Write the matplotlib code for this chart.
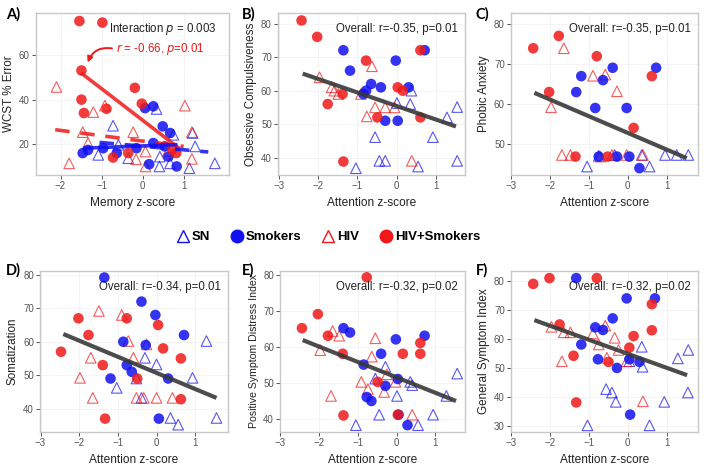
import matplotlib
matplotlib.use("Agg")
import matplotlib.pyplot as plt
import numpy as np

plt.rcParams['font.family'] = ['Liberation Sans', 'DejaVu Sans']

BLUE = '#1010f0'
RED = '#f01818'

# ---- Panel A: WCST % Error vs Memory z-score
A_SN_X = [-0.72, -0.59, -0.35, 0.34, 0.41, 0.67, 1.22, 1.28, 1.14, 1.76, -1.08, 0.75, 0.42]
A_SN_Y = [28.3, 19.7, 13.7, 35.8, 10.0, 11.4, 25.0, 19.0, 9.2, 11.4, 15.2, 24.2, 14.4]
A_SM_X = [-1.46, -1.33, -0.96, -0.63, -0.15, 0.06, 0.26, 0.49, 0.67, 0.16, 0.63, 0.83, 0.54, 0.26]
A_SM_Y = [16.0, 17.4, 18.2, 16.0, 18.2, 36.2, 37.0, 28.0, 25.0, 11.0, 14.4, 10.0, 19.0, 20.5]
A_HIV_X = [-2.1, -1.79, -1.2, -0.92, -1.46, -1.33, -0.23, -0.16, 0.07, 0.07, 1.03, 1.2, 1.2, 0.62]
A_HIV_Y = [45.7, 11.4, 34.4, 37.3, 25.4, 20.5, 25.4, 13.2, 16.7, 10.0, 37.3, 25.4, 13.4, 17.0]
A_HS_X = [-1.54, -0.98, -1.49, -1.49, -1.43, -0.88, -0.19, -0.02, -0.35, -0.72, 0.72, 0.82]
A_HS_Y = [75.3, 74.6, 53.1, 40.0, 34.0, 35.9, 45.3, 38.2, 16.0, 14.0, 17.5, 16.0]
# group fit lines (endpoints)
A_FIT_HS_X, A_FIT_HS_Y = [-1.5, 0.9], [52.0, 18.0]
A_FIT_HIV_X, A_FIT_HIV_Y = [-2.13, 1.0], [26.5, 19.0]
A_FIT_SM_X, A_FIT_SM_Y = [-1.45, 0.85], [18.2, 19.8]
A_FIT_SN_X, A_FIT_SN_Y = [-1.05, 1.6], [20.8, 16.5]

# ---- Panel B: Obsessive Compulsiveness
B_SN_X = [-1.04, -0.55, -0.44, -0.29, 0.01, 0.35, 0.38, 0.55, 0.93, 1.29, 1.55, 1.55]
B_SN_Y = [36.8, 46.1, 39.0, 39.0, 56.3, 56.0, 60.0, 37.3, 46.1, 52.0, 55.1, 39.0]
B_SM_X = [-1.36, -1.19, -0.65, -0.78, -0.85, -0.40, -0.02, -0.29, 0.03, 0.31, 0.72]
B_SM_Y = [72.1, 66.0, 62.0, 60.0, 59.0, 61.0, 69.0, 51.0, 51.0, 61.0, 72.1]
B_HIV_X = [-1.97, -1.66, -1.59, -1.49, -0.63, -0.91, -0.76, -0.55, -0.29, -0.05, 0.39]
B_HIV_Y = [64.0, 61.0, 60.0, 59.0, 67.3, 59.0, 52.3, 55.0, 55.0, 55.0, 39.0]
B_HS_X = [-2.43, -2.03, -0.78, -1.76, -1.38, -0.49, 0.03, 0.16, 0.61, 0.61, -1.36]
B_HS_Y = [81.0, 76.1, 69.0, 56.0, 59.0, 52.0, 61.0, 60.0, 52.0, 72.1, 38.8]
B_FIT_X, B_FIT_Y = [-2.4, 1.52], [65.1, 49.3]

# ---- Panel C: Phobic Anxiety
C_SN_X = [-1.05, -0.75, -0.34, 0.36, 0.56, 0.96, 1.26, 1.56]
C_SN_Y = [44.3, 47.0, 47.2, 47.2, 44.3, 47.2, 47.2, 47.2]
C_SM_X = [-1.2, -0.64, -0.39, 0.73, -1.33, -0.84, -0.03, -0.75, -0.28, 0.04, 0.3]
C_SM_Y = [67.0, 66.0, 69.1, 69.1, 63.0, 59.0, 59.0, 46.8, 46.8, 46.8, 43.9]
C_HIV_X = [-1.65, -1.98, -0.9, -0.58, -0.28, -1.7, -1.48, -0.71, -0.41, -0.03, 0.39]
C_HIV_Y = [74.0, 59.2, 67.1, 67.4, 63.2, 47.2, 47.2, 46.8, 47.2, 47.2, 47.2]
C_HS_X = [-2.44, -1.78, -2.03, -0.8, 0.62, 0.15, -1.35, -0.52]
C_HS_Y = [74.0, 77.1, 63.0, 72.0, 67.0, 54.0, 46.8, 46.8]
C_FIT_X, C_FIT_Y = [-2.41, 1.52], [62.8, 46.4]

# ---- Panel D: Somatization
D_SN_X = [-1.03, -0.3, 0.0, -0.52, -0.39, 0.36, 0.56, 0.93, 1.29, 1.55]
D_SN_Y = [46.2, 55.2, 53.2, 49.0, 43.2, 37.2, 35.2, 49.2, 60.2, 37.2]
D_SM_X = [-1.35, -0.39, -0.03, 0.71, -0.86, -0.28, -0.77, -0.64, -1.19, 0.3, 0.06]
D_SM_Y = [79.2, 72.0, 68.0, 62.0, 60.0, 59.0, 53.0, 51.0, 49.0, 49.0, 37.0]
D_HIV_X = [-1.49, -0.9, -0.73, -0.26, -1.7, -0.6, -1.98, -1.65, -0.52, -0.33, 0.0, 0.41]
D_HIV_Y = [69.2, 68.0, 60.2, 59.2, 55.2, 55.2, 49.2, 43.2, 43.2, 43.2, 43.2, 43.2]
D_HS_X = [-2.47, -2.02, -1.76, -0.77, 0.04, 0.17, -1.39, -0.5, 0.63, 0.63, -1.33]
D_HS_Y = [57.0, 67.0, 62.0, 67.0, 65.0, 58.0, 53.0, 49.0, 55.0, 42.8, 37.0]
D_FIT_X, D_FIT_Y = [-2.41, 1.55], [62.3, 43.2]

# ---- Panel E: Positive Symptom Distress Index
E_SN_X = [-1.05, -0.55, -0.45, -0.29, 0.01, 0.35, 0.4, 0.55, 0.94, 1.28, 1.56]
E_SN_Y = [38.3, 51.2, 41.2, 54.5, 46.4, 50.3, 49.4, 38.3, 41.2, 46.4, 52.6]
E_SM_X = [-1.37, -1.2, -0.4, -0.02, 0.72, -0.85, -0.29, 0.03, -0.77, -0.65, 0.28, 0.05]
E_SM_Y = [65.2, 64.0, 58.1, 62.1, 63.1, 55.1, 49.2, 51.1, 46.1, 45.0, 38.3, 41.2]
E_HIV_X = [-1.65, -1.48, -1.97, -0.55, -0.64, -1.69, -0.91, -0.74, -0.32, -0.25, -0.03, 0.4]
E_HIV_Y = [64.4, 63.1, 59.1, 62.4, 57.3, 46.4, 50.3, 48.3, 47.5, 52.4, 50.3, 41.2]
E_HS_X = [-0.77, -2.03, -2.44, -1.77, -1.39, -0.49, 0.16, 0.61, 0.61, -1.37, 0.03]
E_HS_Y = [79.3, 69.1, 65.2, 63.1, 58.1, 50.3, 58.1, 61.1, 58.1, 41.0, 41.2]
E_FIT_X, E_FIT_Y = [-2.42, 1.53], [61.9, 45.0]

# ---- Panel F: General Symptom Index
F_SN_X = [-1.04, -0.56, -0.41, -0.31, 0.04, 0.36, 0.38, 0.56, 0.94, 1.29, 1.56, 1.55]
F_SN_Y = [30.2, 42.7, 41.5, 38.3, 52.3, 57.3, 50.4, 30.2, 38.3, 53.3, 56.2, 41.5]
F_SM_X = [-1.33, -0.03, 0.7, -0.39, -0.84, -0.64, -1.2, -0.77, -0.28, 0.04, 0.3, 0.06]
F_SM_Y = [81.0, 74.0, 74.0, 67.1, 64.0, 63.1, 58.1, 53.0, 50.0, 53.0, 52.1, 33.9]
F_HIV_X = [-1.97, -1.65, -1.48, -0.58, -0.9, -0.34, -0.75, -0.24, -0.54, -1.7, -0.03, 0.39]
F_HIV_Y = [64.2, 62.3, 62.3, 64.6, 61.9, 60.4, 58.1, 56.2, 53.5, 52.3, 52.3, 38.5]
F_HS_X = [-2.44, -2.02, -0.8, 0.62, -1.76, 0.15, 0.04, 0.62, -1.4, -0.5, -1.33]
F_HS_Y = [79.0, 81.0, 81.0, 72.0, 65.0, 61.0, 57.0, 63.0, 54.2, 52.1, 38.1]
F_FIT_X, F_FIT_Y = [-2.41, 1.53], [66.5, 47.5]

LABELS = ['SN', 'Smokers', 'HIV', 'HIV+Smokers']


def style_axes(ax, xlim, ylim, xticks, yticks, xlabel, ylabel, ysize=8.4):
    ax.set_xlim(xlim)
    ax.set_ylim(ylim)
    ax.set_xticks(xticks)
    ax.set_yticks(yticks)
    ax.grid(True, color='#f2f2f2', lw=0.6, zorder=0)
    ax.set_axisbelow(True)
    for s in ax.spines.values():
        s.set_color('#c8c8c8')
        s.set_linewidth(1.0)
    ax.tick_params(colors='#555555', labelsize=7, length=3, width=0.7, pad=1.5)
    ax.set_xlabel(xlabel, fontsize=8.6, color='#222222', labelpad=4)
    ax.set_ylabel(ylabel, fontsize=ysize, color='#222222', labelpad=3)


def draw_groups(ax, sn, sm, hiv, hs):
    ms = 58
    ax.scatter(sn[0], sn[1], s=ms, marker='^', facecolors='none',
               edgecolors=BLUE, linewidths=0.8, alpha=0.7, zorder=3)
    ax.scatter(hiv[0], hiv[1], s=ms, marker='^', facecolors='none',
               edgecolors=RED, linewidths=0.8, alpha=0.7, zorder=3)
    ax.scatter(sm[0], sm[1], s=ms, marker='o', color=BLUE, alpha=0.85,
               edgecolors='none', zorder=4)
    ax.scatter(hs[0], hs[1], s=ms, marker='o', color=RED, alpha=0.85,
               edgecolors='none', zorder=4)


fig = plt.figure(figsize=(7.04, 4.74), dpi=100)

top_rect = 0.631, 0.342
bot_rect = 0.0886, 0.340

# Panel A
axA = fig.add_axes([0.051, top_rect[0], 0.274, top_rect[1]])
style_axes(axA, (-2.6, 2.1), (6.2, 79), [-2, -1, 0, 1], [20, 40, 60],
           'Memory z-score', 'WCST % Error')
draw_groups(axA, (A_SN_X, A_SN_Y), (A_SM_X, A_SM_Y), (A_HIV_X, A_HIV_Y), (A_HS_X, A_HS_Y))
axA.plot(A_FIT_HS_X, A_FIT_HS_Y, color=RED, lw=2.6, alpha=0.85, zorder=5, solid_capstyle='butt')
axA.plot(A_FIT_HIV_X, A_FIT_HIV_Y, color=RED, lw=2.6, alpha=0.85, ls=(0, (4, 3)), zorder=5)
axA.plot(A_FIT_SM_X, A_FIT_SM_Y, color=BLUE, lw=2.6, alpha=0.85, zorder=5, solid_capstyle='butt')
axA.plot(A_FIT_SN_X, A_FIT_SN_Y, color=BLUE, lw=2.6, alpha=0.85, ls=(0, (4, 3)), zorder=5)
axA.text(1.8, 71.5, 'Interaction $\\it{p}$ = 0.003', ha='right', va='center',
         fontsize=8.3, color='#222222')
axA.text(1.5, 62.6, '$\\it{r}$ = -0.66, $\\it{p}$=0.01', ha='right', va='center',
         fontsize=8.3, color=RED)
axA.annotate('', xy=(-1.36, 55.5), xytext=(-0.68, 62.8),
             arrowprops=dict(arrowstyle='-|>', color=RED, lw=1.4,
                             connectionstyle='arc3,rad=0.45', mutation_scale=8))

# Panels B-F
specs = [
    ([0.395, top_rect[0], 0.266, top_rect[1]], (-3.03, 1.76), (34.8, 83.3), [40, 50, 60, 70, 80],
     'Obsessive Compulsiveness', 8.4, (B_SN_X, B_SN_Y), (B_SM_X, B_SM_Y), (B_HIV_X, B_HIV_Y),
     (B_HS_X, B_HS_Y), (B_FIT_X, B_FIT_Y), 'Overall: r=-0.35, p=0.01'),
    ([0.726, top_rect[0], 0.266, top_rect[1]], (-3.01, 1.82), (42.2, 82.9), [50, 60, 70, 80],
     'Phobic Anxiety', 8.4, (C_SN_X, C_SN_Y), (C_SM_X, C_SM_Y), (C_HIV_X, C_HIV_Y),
     (C_HS_X, C_HS_Y), (C_FIT_X, C_FIT_Y), 'Overall: r=-0.35, p=0.01'),
    ([0.057, bot_rect[0], 0.267, bot_rect[1]], (-3.01, 1.85), (33.0, 81.2), [40, 50, 60, 70, 80],
     'Somatization', 8.4, (D_SN_X, D_SN_Y), (D_SM_X, D_SM_Y), (D_HIV_X, D_HIV_Y),
     (D_HS_X, D_HS_Y), (D_FIT_X, D_FIT_Y), 'Overall: r=-0.34, p=0.01'),
    ([0.398, bot_rect[0], 0.263, bot_rect[1]], (-3.0, 1.77), (36.4, 81.1), [40, 50, 60, 70, 80],
     'Positive Symptom Distress Index', 7.6, (E_SN_X, E_SN_Y), (E_SM_X, E_SM_Y),
     (E_HIV_X, E_HIV_Y), (E_HS_X, E_HS_Y), (E_FIT_X, E_FIT_Y), 'Overall: r=-0.32, p=0.02'),
    ([0.726, bot_rect[0], 0.266, bot_rect[1]], (-3.01, 1.82), (27.9, 83.5), [30, 40, 50, 60, 70, 80],
     'General Symptom Index', 8.4, (F_SN_X, F_SN_Y), (F_SM_X, F_SM_Y), (F_HIV_X, F_HIV_Y),
     (F_HS_X, F_HS_Y), (F_FIT_X, F_FIT_Y), 'Overall: r=-0.32, p=0.02'),
]

for rect, xl, yl, yt, ylab, ysz, sn, sm, hiv, hs, fit, note in specs:
    ax = fig.add_axes(rect)
    style_axes(ax, xl, yl, [-3, -2, -1, 0, 1], yt, 'Attention z-score', ylab, ysz)
    draw_groups(ax, sn, sm, hiv, hs)
    ax.plot(fit[0], fit[1], color='#383838', lw=3.0, alpha=0.9, zorder=5,
            solid_capstyle='butt')
    ax.text(0.96, 0.9, note, transform=ax.transAxes, ha='right', va='center',
            fontsize=8.3, color='#222222', zorder=6)

# panel letters
for lab, x, y in [('A)', 0.008, 0.985), ('B)', 0.343, 0.985), ('C)', 0.676, 0.985),
                  ('D)', 0.008, 0.445), ('E)', 0.343, 0.445), ('F)', 0.676, 0.445)]:
    fig.text(x, y, lab, fontsize=10.5, fontweight='bold', ha='left', va='top',
             family=['Lato', 'DejaVu Sans'])

# legend row
handles = [
    plt.Line2D([], [], ls='none', marker='^', mfc='none', mec=BLUE, ms=9, mew=1.0),
    plt.Line2D([], [], ls='none', marker='o', mfc=BLUE, mec=BLUE, ms=9),
    plt.Line2D([], [], ls='none', marker='^', mfc='none', mec=RED, ms=9, mew=1.0),
    plt.Line2D([], [], ls='none', marker='o', mfc=RED, mec=RED, ms=9),
]
fig.legend(handles, LABELS, loc='center', bbox_to_anchor=(0.465, 0.5), ncol=4,
           frameon=False, handletextpad=0.1, columnspacing=1.4,
           prop={'size': 9.5, 'weight': 'bold'}, handlelength=1.2)

fig.savefig('out.png', dpi=100, facecolor='white')
